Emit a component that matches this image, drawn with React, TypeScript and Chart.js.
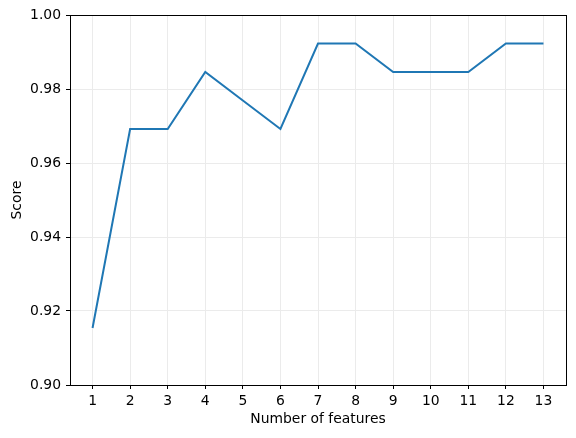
import React, { useEffect, useRef } from "react";
import { Chart, registerables } from "chart.js";

Chart.register(...registerables);

const featureCounts = [1, 2, 3, 4, 5, 6, 7, 8, 9, 10, 11, 12, 13];
const scores = [0.9154, 0.9692, 0.9692, 0.9846, 0.9769, 0.9692, 0.9923, 0.9923, 0.9846, 0.9846, 0.9846, 0.9923, 0.9923];
const yTicks = [0.9, 0.92, 0.94, 0.96, 0.98, 1.0];
const xLabel = "Number of features";
const yLabel = "Score";

const FONT = "'DejaVu Sans', sans-serif";
const FS = 13.9;

const framePlugin = {
  id: "frame",
  afterDraw(chart: any) {
    const { ctx, chartArea: a } = chart;
    ctx.save();
    ctx.strokeStyle = "#000";
    ctx.lineWidth = 1;
    ctx.strokeRect(Math.round(a.left) + 0.5, Math.round(a.top) + 0.5, Math.round(a.right - a.left), Math.round(a.bottom - a.top));
    ctx.restore();
  },
};

export default function App() {
  const ref = useRef<HTMLCanvasElement>(null);
  useEffect(() => {
    const chart = new Chart(ref.current!, {
      type: "line",
      data: {
        datasets: [
          {
            data: featureCounts.map((x, i) => ({ x, y: scores[i] })),
            borderColor: "#1f77b4",
            borderWidth: 2,
            pointRadius: 0,
            tension: 0,
            fill: false,
          },
        ],
      },
      options: {
        animation: false,
        responsive: false,
        events: [],
        layout: { padding: { top: 15, right: 10, left: 9, bottom: 10 } },
        plugins: { legend: { display: false }, tooltip: { enabled: false } },
        scales: {
          x: {
            type: "linear",
            min: 0.4,
            max: 13.6,
            afterBuildTicks: (s: any) => {
              s.ticks = featureCounts.map((v) => ({ value: v }));
            },
            afterFit: (s: any) => {
              s.height = 43;
            },
            grid: { color: "#ebebeb", tickColor: "#000", tickLength: 4, drawTicks: true },
            border: { display: false },
            ticks: { color: "#000", font: { family: FONT, size: FS }, padding: 4, maxRotation: 0, autoSkip: false },
            title: { display: true, text: xLabel, color: "#000", font: { family: FONT, size: FS }, padding: { top: 2, bottom: 0 } },
          },
          y: {
            type: "linear",
            min: 0.9,
            max: 1.0,
            afterBuildTicks: (s: any) => {
              s.ticks = yTicks.map((v) => ({ value: v }));
            },
            afterFit: (s: any) => {
              s.width = 61;
            },
            grid: { color: "#ebebeb", tickColor: "#000", tickLength: 4, drawTicks: true },
            border: { display: false },
            ticks: {
              color: "#000",
              font: { family: FONT, size: FS },
              padding: 5,
              callback: (v: any) => Number(v).toFixed(2),
            },
            title: { display: true, text: yLabel, color: "#000", font: { family: FONT, size: FS }, padding: { top: 0, bottom: 4 } },
          },
        },
      },
      plugins: [framePlugin],
    } as any);
    return () => chart.destroy();
  }, []);
  return (
    <div style={{ position: "fixed", left: 0, top: 0, width: 576, height: 438, background: "#fff" }}>
      <canvas ref={ref} width={576} height={438} />
    </div>
  );
}
